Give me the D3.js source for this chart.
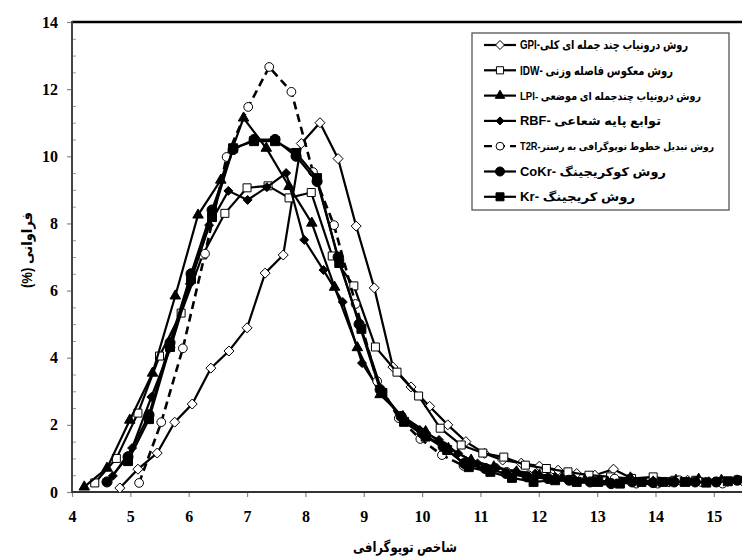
<!DOCTYPE html>
<html lang="fa">
<head>
<meta charset="UTF-8">
<title>فراوانی شاخص توپوگرافی</title>
<script src="https://d3js.org/d3.v7.min.js"></script>
<style>
    body { margin: 0; background: #fff; }
</style>
</head>
<body>
<div id="chart"></div>
<script>
// tick labels
const xTicks = [4, 5, 6, 7, 8, 9, 10, 11, 12, 13, 14, 15];
const yTicks = [0, 2, 4, 6, 8, 10, 12, 14];

// series (x = topographic index, y = frequency %)
const gpiX = [4.82, 5.13, 5.46, 5.76, 6.06, 6.38, 6.69, 7.0, 7.31, 7.62, 7.93, 8.25, 8.56, 8.87, 9.18, 9.5, 9.81, 10.13, 10.44, 10.75, 11.07, 11.38, 11.7, 12.01, 12.33, 12.65, 12.96, 13.28, 13.6, 13.91, 14.23, 14.55, 14.86, 15.18, 15.5];
const gpiY = [0.12, 0.68, 1.16, 2.08, 2.62, 3.69, 4.2, 4.89, 6.52, 7.06, 10.38, 11.0, 9.93, 7.92, 6.08, 3.72, 3.13, 2.55, 2.0, 1.5, 1.15, 0.95, 0.86, 0.77, 0.65, 0.55, 0.5, 0.68, 0.4, 0.35, 0.3, 0.35, 0.3, 0.3, 0.35];

const idwX = [4.39, 4.76, 5.13, 5.5, 5.87, 6.24, 6.62, 7.0, 7.36, 7.72, 8.1, 8.46, 8.83, 9.2, 9.57, 9.94, 10.31, 10.67, 11.04, 11.4, 11.77, 12.13, 12.5, 12.86, 13.23, 13.59, 13.96, 14.33, 14.69, 15.06, 15.42];
const idwY = [0.27, 1.0, 2.35, 4.05, 5.33, 7.06, 8.3, 9.06, 9.12, 8.76, 8.92, 7.03, 6.14, 4.32, 3.57, 2.86, 1.9, 1.4, 1.16, 1.04, 0.8, 0.7, 0.6, 0.5, 0.45, 0.4, 0.45, 0.35, 0.35, 0.3, 0.35];

const lpiX = [4.21, 4.6, 4.99, 5.38, 5.77, 6.16, 6.55, 6.94, 7.33, 7.72, 8.11, 8.5, 8.89, 9.28, 9.67, 10.06, 10.45, 10.84, 11.23, 11.62, 12.01, 12.4, 12.79, 13.18, 13.57, 13.96, 14.35, 14.74, 15.13, 15.52];
const lpiY = [0.15, 0.71, 2.14, 3.54, 5.84, 8.25, 9.29, 11.14, 10.24, 9.1, 8.01, 6.1, 4.3, 2.9, 2.25, 1.8, 1.3, 0.95, 0.75, 0.6, 0.5, 0.42, 0.35, 0.3, 0.42, 0.3, 0.35, 0.38, 0.35, 0.4];

const rbfX = [4.7, 5.03, 5.36, 5.69, 6.02, 6.35, 6.68, 7.01, 7.34, 7.67, 7.98, 8.31, 8.64, 8.97, 9.3, 9.63, 9.96, 10.29, 10.62, 10.95, 11.28, 11.61, 11.94, 12.27, 12.6, 12.93, 13.26, 13.59, 13.92, 14.25, 14.58, 14.91, 15.24, 15.57];
const rbfY = [0.48, 1.31, 2.83, 4.3, 6.2, 7.95, 8.97, 8.7, 9.08, 9.5, 7.51, 6.61, 5.66, 3.84, 2.95, 2.25, 1.85, 1.55, 1.15, 0.85, 0.72, 0.62, 0.55, 0.45, 0.4, 0.35, 0.3, 0.3, 0.28, 0.3, 0.3, 0.32, 0.3, 0.35];

const t2rX = [5.15, 5.53, 5.9, 6.28, 6.65, 7.02, 7.38, 7.76, 8.13, 8.49, 8.86, 9.23, 9.6, 9.97, 10.34, 10.71, 11.08, 11.45, 11.82, 12.19, 12.56, 12.93, 13.3, 13.67, 14.04, 14.41, 14.78, 15.15, 15.52];
const t2rY = [0.27, 2.08, 4.28, 7.1, 9.98, 11.47, 12.66, 11.92, 9.53, 7.95, 5.6, 3.3, 2.2, 1.58, 1.1, 0.78, 0.7, 0.6, 0.5, 0.45, 0.35, 0.3, 0.4, 0.25, 0.25, 0.35, 0.3, 0.25, 0.3];

const cokrX = [4.6, 4.96, 5.32, 5.68, 6.04, 6.4, 6.76, 7.12, 7.48, 7.84, 8.2, 8.56, 8.92, 9.28, 9.64, 10.0, 10.36, 10.72, 11.08, 11.44, 11.8, 12.16, 12.52, 12.88, 13.24, 13.6, 13.96, 14.32, 14.68, 15.04, 15.4];
const cokrY = [0.3, 1.05, 2.3, 4.45, 6.5, 8.4, 10.2, 10.5, 10.5, 10.0, 9.25, 7.0, 5.0, 3.05, 2.25, 1.75, 1.35, 0.85, 0.7, 0.55, 0.45, 0.4, 0.35, 0.3, 0.25, 0.3, 0.28, 0.3, 0.3, 0.3, 0.35];

const krX = [4.96, 5.32, 5.68, 6.04, 6.4, 6.76, 7.12, 7.48, 7.84, 8.2, 8.58, 8.96, 9.32, 9.69, 10.06, 10.43, 10.8, 11.17, 11.54, 11.91, 12.28, 12.65, 13.02, 13.39, 13.76, 14.13, 14.5, 14.87, 15.24, 15.61];
const krY = [0.92, 2.17, 4.32, 6.35, 8.19, 10.24, 10.45, 10.45, 10.1, 9.35, 6.82, 4.86, 2.95, 2.09, 1.65, 1.25, 0.74, 0.6, 0.42, 0.3, 0.35, 0.3, 0.3, 0.25, 0.3, 0.3, 0.3, 0.28, 0.32, 0.35];

const seriesNames = [
    "روش درونیاب چند جمله ای کلی-GPI",
    "روش معکوس فاصله وزنی -IDW",
    "روش درونیاب چندجمله ای موضعی -LPI",
    "توابع پایه شعاعی -RBF",
    "روش تبدیل خطوط توپوگرافی به رستر-T2R",
    "روش کوکریجینگ -CoKr",
    "روش کریجینگ -Kr"
];

const xAxisTitle = "شاخص توپوگرافی";
const yAxisTitle = "فراوانی (%)";

// Excel-like diamond (a rotated square)
const squareDiamond = {
    draw(ctx, size) {
        const r = Math.sqrt(size / 2);
        ctx.moveTo(0, -r); ctx.lineTo(r, 0); ctx.lineTo(0, r); ctx.lineTo(-r, 0); ctx.closePath();
    }
};

const styles = [
    { shape: squareDiamond, size: 50, fill: "#fff", dash: null },
    { shape: d3.symbolSquare, size: 64, fill: "#fff", dash: null },
    { shape: d3.symbolTriangle, size: 48, fill: "#000", dash: null },
    { shape: squareDiamond, size: 40, fill: "#000", dash: null },
    { shape: d3.symbolCircle, size: 60, fill: "#fff", dash: "8,5" },
    { shape: d3.symbolCircle, size: 80, fill: "#000", dash: null },
    { shape: d3.symbolSquare, size: 80, fill: "#000", dash: null }
];
// visual width of each legend label in the reference
const legendTextWidth = [168, 153, 181, 141, 194, 146, 129];

const allX = [gpiX, idwX, lpiX, rbfX, t2rX, cokrX, krX];
const allY = [gpiY, idwY, lpiY, rbfY, t2rY, cokrY, krY];
const series = seriesNames.map((name, i) => ({
    name,
    style: styles[i],
    values: allX[i].map((xv, j) => ({ x: xv, y: allY[i][j] }))
}));

const width = 742, height = 560;
const plot = { left: 72, top: 22, bottom: 492, unit: 58.35 };
const serif = '"Liberation Serif", "Times New Roman", serif';
const sans = '"Liberation Sans", "DejaVu Sans", sans-serif';

const svg = d3.select("#chart").append("svg")
    .attr("width", width)
    .attr("height", height);

const x = d3.scaleLinear().domain([4, 16]).range([plot.left, plot.left + 12 * plot.unit]);
const y = d3.scaleLinear().domain([0, 14]).range([plot.bottom, plot.top]);

function styleTicks(g) {
    g.attr("font-family", serif).attr("font-size", 16).attr("font-weight", "bold");
    g.select(".domain").remove();
    g.selectAll(".tick line").attr("stroke", "#888").attr("stroke-width", 1.2);
    g.selectAll(".tick text").attr("fill", "#000");
}

// x axis ticks + labels
svg.append("g")
    .attr("transform", `translate(0,${plot.bottom})`)
    .call(d3.axisBottom(x).tickValues(xTicks).tickSize(5).tickSizeOuter(0).tickPadding(14))
    .call(styleTicks);

// y axis: major ticks outside, minor (0.5) inside
svg.append("g")
    .attr("transform", `translate(${plot.left},0)`)
    .call(d3.axisLeft(y).tickValues(yTicks).tickSize(5).tickSizeOuter(0).tickPadding(9))
    .call(styleTicks);

const yMinor = svg.append("g")
    .attr("transform", `translate(${plot.left},0)`)
    .call(d3.axisRight(y).tickValues(d3.range(0.5, 14, 0.5).filter(v => v % 2 !== 0)).tickSize(4).tickFormat(""));
yMinor.select(".domain").remove();
yMinor.selectAll(".tick line").attr("stroke", "#999").attr("stroke-width", 1);

// frame lines
svg.append("line")
    .attr("x1", plot.left).attr("x2", width)
    .attr("y1", plot.top).attr("y2", plot.top)
    .attr("stroke", "#000").attr("stroke-width", 2.5);
svg.append("line")
    .attr("x1", plot.left).attr("x2", plot.left)
    .attr("y1", plot.top - 1).attr("y2", plot.bottom + 1)
    .attr("stroke", "#444").attr("stroke-width", 2);
svg.append("line")
    .attr("x1", plot.left).attr("x2", width)
    .attr("y1", plot.bottom).attr("y2", plot.bottom)
    .attr("stroke", "#333").attr("stroke-width", 2);

// axis titles
svg.append("text")
    .attr("font-family", sans).attr("font-size", 14).attr("font-weight", "bold")
    .attr("x", 405).attr("y", 552)
    .attr("text-anchor", "middle")
    .attr("direction", "rtl")
    .attr("textLength", 104)
    .attr("lengthAdjust", "spacingAndGlyphs")
    .text(xAxisTitle);
svg.append("text")
    .attr("font-family", sans).attr("font-size", 14).attr("font-weight", "bold")
    .attr("transform", "translate(32,250) rotate(-90)")
    .attr("text-anchor", "middle")
    .attr("direction", "rtl")
    .attr("textLength", 76)
    .attr("lengthAdjust", "spacingAndGlyphs")
    .text(yAxisTitle);

// series
svg.append("clipPath").attr("id", "plot-clip")
    .append("rect").attr("x", plot.left).attr("y", 0).attr("width", width - plot.left).attr("height", plot.bottom);

const line = d3.line().x(d => x(d.x)).y(d => y(d.y));
const plotG = svg.append("g").attr("clip-path", "url(#plot-clip)");

series.forEach(s => {
    const g = plotG.append("g");
    g.append("path")
        .datum(s.values)
        .attr("fill", "none")
        .attr("stroke", "#000")
        .attr("stroke-width", s.style.dash ? 2.6 : 2.2)
        .attr("stroke-dasharray", s.style.dash)
        .attr("d", line);
    g.selectAll("path.marker")
        .data(s.values)
        .join("path")
        .attr("class", "marker")
        .attr("transform", d => `translate(${x(d.x)},${y(d.y)})`)
        .attr("d", d3.symbol().type(s.style.shape).size(s.style.size))
        .attr("fill", s.style.fill)
        .attr("stroke", "#000")
        .attr("stroke-width", 1);
});

// legend
const legend = svg.append("g");
legend.append("rect")
    .attr("x", 472).attr("y", 33)
    .attr("width", 257).attr("height", 177)
    .attr("fill", "#fff")
    .attr("stroke", "#555")
    .attr("stroke-width", 1.3);

series.forEach((s, i) => {
    const row = legend.append("g").attr("transform", `translate(0,${45 + i * 25.3})`);
    row.append("line")
        .attr("x1", 484).attr("x2", 516)
        .attr("stroke", "#000")
        .attr("stroke-width", 2.2)
        .attr("stroke-dasharray", s.style.dash);
    row.append("path")
        .attr("transform", "translate(500,0)")
        .attr("d", d3.symbol().type(s.style.shape).size(s.style.size * 0.8))
        .attr("fill", s.style.fill)
        .attr("stroke", "#000")
        .attr("stroke-width", 1);
    const t = row.append("text")
        .attr("font-family", sans).attr("font-size", 12).attr("font-weight", "bold")
        .attr("direction", "rtl")
        .attr("text-anchor", "middle")
        .attr("dy", "0.35em")
        .text(s.name);
    // keep the unscaled text inside the page, then fit it to the reference width
    let natural = t.node().getComputedTextLength();
    if (natural > 210) {
        t.attr("font-size", 12 * 210 / natural);
        natural = t.node().getComputedTextLength();
    }
    const w = Math.min(legendTextWidth[i], natural * 1.1);
    t.attr("x", 520 + w / 2)
        .attr("textLength", w)
        .attr("lengthAdjust", "spacingAndGlyphs");
});
</script>
</body>
</html>
